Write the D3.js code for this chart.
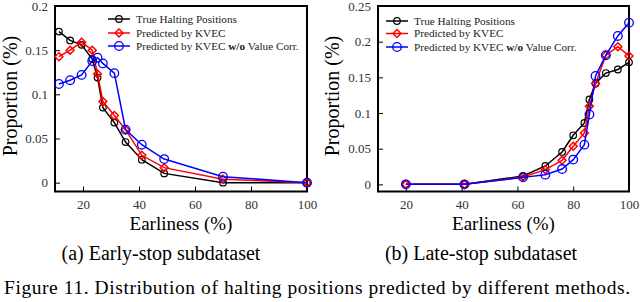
<!DOCTYPE html>
<html>
<head>
<meta charset="utf-8">
<script src="https://cdn.jsdelivr.net/npm/d3@7"></script>
<style>
  body { margin: 0; background: #fff; }
  svg text { font-family: "Liberation Serif", "Tinos", "Times New Roman", "DejaVu Serif", serif; }
</style>
</head>
<body>
<div id="sketchpad"></div>
<script>
// early-stop subdataset
let earlyX = [11.4, 15.4, 19.5, 23.3, 25.2, 27.1, 31.2, 35.2, 41, 49, 70, 100]
let earlyTrue = [0.171, 0.161, 0.156, 0.140, 0.119, 0.085, 0.068, 0.046, 0.026, 0.0105, 0, 0]
let earlyKvec = [0.1426, 0.150, 0.159, 0.150, 0.123, 0.092, 0.076, 0.060, 0.031, 0.017, 0.004, 0]
let earlyNoCorr = [0.1117, 0.116, 0.122, 0.1377, 0.1415, 0.135, 0.124, 0.060, 0.043, 0.0267, 0.0068, 0]

// late-stop subdataset
let lateX = [20, 41, 62, 70, 76, 80, 84, 85.8, 88, 91.7, 96, 100]
let lateTrue = [0, 0, 0.0117, 0.0258, 0.0454, 0.0688, 0.086, 0.119, 0.1414, 0.156, 0.161, 0.171]
let lateKvec = [0, 0, 0.0103, 0.0206, 0.0337, 0.0534, 0.072, 0.1096, 0.1414, 0.181, 0.193, 0.180]
let lateNoCorr = [0, 0, 0.0098, 0.0136, 0.0215, 0.0347, 0.0557, 0.098, 0.152, 0.181, 0.208, 0.2265]

let xTicks = [20, 40, 60, 80, 100]
let earlyYTicks = [0, 0.05, 0.1, 0.15, 0.2]
let lateYTicks = [0, 0.05, 0.1, 0.15, 0.2, 0.25]
let legendNames = ["True Halting Positions", "Predicted by KVEC", "Predicted by KVEC "]

let svg = d3.select("#sketchpad")
  .append("svg")
  .attr("width", 640)
  .attr("height", 302)

function drawMarker(g, kind, x, y) {
  if (kind == 0) {
    g.append("circle").attr("cx", x).attr("cy", y).attr("r", 3.3)
      .attr("fill", "none").attr("stroke", "black").attr("stroke-width", 1.2)
  } else if (kind == 1) {
    g.append("path").attr("d", d3.symbol(d3.symbolDiamond2, 40)())
      .attr("transform", `translate(${x},${y})`)
      .attr("fill", "none").attr("stroke", "red").attr("stroke-width", 1.5)
  } else {
    g.append("circle").attr("cx", x).attr("cy", y).attr("r", 4.3)
      .attr("fill", "none").attr("stroke", "blue").attr("stroke-width", 1.3)
  }
}

function panel(opts) {
  let x = d3.scaleLinear().domain([10, 100]).range([opts.left, opts.right])
  let y = d3.scaleLinear().domain([-0.01, opts.ymax]).range([191.5, opts.top])
  let g = svg.append("g")

  g.append("g")
    .attr("transform", `translate(0,191.5)`)
    .call(d3.axisBottom(x).tickValues(xTicks).tickSize(-5).tickPadding(8).tickFormat(d3.format("d")))
    .call(a => a.select(".domain").remove())
    .call(a => a.selectAll("text").attr("font-size", 13).attr("fill", "#333"))

  g.append("g")
    .attr("transform", `translate(${opts.left},0)`)
    .call(d3.axisLeft(y).tickValues(opts.yTicks).tickSize(-5).tickPadding(7).tickFormat(d => d))
    .call(a => a.select(".domain").remove())
    .call(a => a.selectAll("text").attr("font-size", 13).attr("fill", "#333"))

  g.append("rect")
    .attr("x", opts.left).attr("y", opts.top)
    .attr("width", opts.right - opts.left).attr("height", 191.5 - opts.top)
    .attr("fill", "none").attr("stroke", "black").attr("stroke-width", 2)

  let colors = ["black", "red", "blue"]
  let line = d3.line().x(d => x(d[0])).y(d => y(d[1]))
  opts.series.forEach((s, i) => {
    let pts = opts.xs.map((v, j) => [v, s[j]])
    g.append("path").datum(pts).attr("d", line)
      .attr("fill", "none").attr("stroke", colors[i]).attr("stroke-width", 1.5)
    pts.forEach(p => drawMarker(g, i, x(p[0]), y(p[1])))
  })

  // legend
  legendNames.forEach((name, i) => {
    let ly = opts.legY[i]
    g.append("line").attr("x1", opts.legX).attr("x2", opts.legX + 22)
      .attr("y1", ly).attr("y2", ly).attr("stroke", colors[i]).attr("stroke-width", 1.5)
    drawMarker(g, i, opts.legX + 11, ly)
    let t = g.append("text").attr("x", opts.legX + 28).attr("y", ly).attr("dy", "0.33em")
      .attr("font-size", 11.2).attr("fill", "#222").text(name)
    if (i == 2) {
      t.append("tspan").attr("font-weight", "bold").text("w/o")
      t.append("tspan").text(" Value Corr.")
    }
  })

  g.append("text")
    .attr("transform", `translate(${opts.ylabX},96) rotate(-90)`)
    .attr("text-anchor", "middle").attr("dy", "0.35em")
    .attr("font-size", 20).text("Proportion (%)")

  g.append("text")
    .attr("x", (opts.left + opts.right) / 2).attr("y", 230)
    .attr("text-anchor", "middle").attr("font-size", 19).text("Earliness (%)")

  g.append("text")
    .attr("x", opts.capX).attr("y", 260)
    .attr("text-anchor", "middle").attr("font-size", 20).text(opts.caption)
}

panel({
  left: 55, right: 307, top: 6, ymax: 0.2, yTicks: earlyYTicks,
  xs: earlyX, series: [earlyTrue, earlyKvec, earlyNoCorr],
  legX: 108, legY: [19, 33, 46], ylabX: 10, capX: 161,
  caption: "(a) Early-stop subdataset"
})

panel({
  left: 378, right: 629, top: 6, ymax: 0.25, yTicks: lateYTicks,
  xs: lateX, series: [lateTrue, lateKvec, lateNoCorr],
  legX: 386, legY: [21, 33.5, 47], ylabX: 332, capX: 481,
  caption: "(b) Late-stop subdataset"
})

svg.append("text")
  .attr("x", 4).attr("y", 294)
  .attr("font-size", 19.5)
  .attr("textLength", 626).attr("lengthAdjust", "spacing")
  .text("Figure 11.  Distribution of halting positions predicted by different methods.")
</script>
</body>
</html>
